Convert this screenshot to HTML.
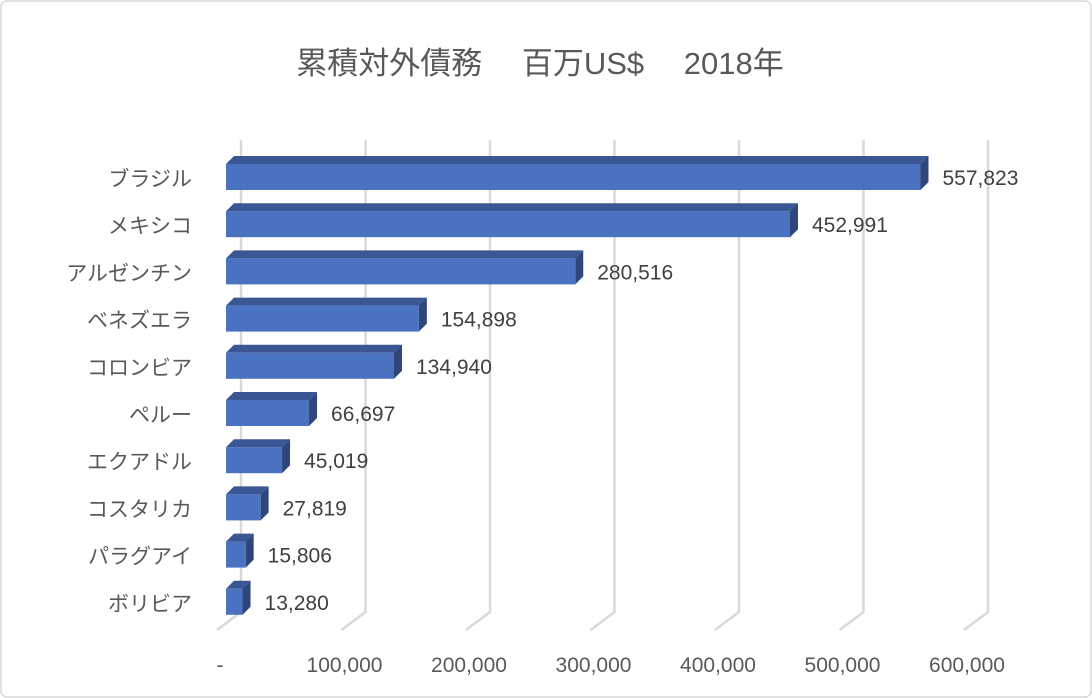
<!DOCTYPE html>
<html><head><meta charset="utf-8"><style>
html,body{margin:0;padding:0;background:#fff}
svg{display:block;font-family:"Liberation Sans","Noto Sans CJK JP",sans-serif}
</style></head><body>
<svg width="1092" height="698" viewBox="0 0 1092 698">
<rect x="1" y="1" width="1090" height="696" rx="6" fill="#fff" stroke="#d9d9d9" stroke-width="1.5"/>
<text x="540" y="74" text-anchor="middle" font-size="31" fill="#595959">累積対外債務　 百万US$　 2018年</text>
<g id="grid"></g><g id="bars"></g><g id="labels"></g>
</svg>
<script>
const categories=["ブラジル","メキシコ","アルゼンチン","ベネズエラ","コロンビア","ペルー","エクアドル","コスタリカ","パラグアイ","ボリビア"];
const values=[557823,452991,280516,154898,134940,66697,45019,27819,15806,13280];
const ticks=[0,100000,200000,300000,400000,500000,600000];
const tickLabels=["-","100,000","200,000","300,000","400,000","500,000","600,000"];
const NS="http://www.w3.org/2000/svg";
const xs=v=>226+v*0.001245;
const rowY=i=>177+i*47.2;
function mk(t,a,p){const e=document.createElementNS(NS,t);for(const k in a)e.setAttribute(k,a[k]);p.appendChild(e);return e;}
const g=document.getElementById('grid'),b=document.getElementById('bars'),l=document.getElementById('labels');
ticks.forEach((t,i)=>{
  const bx=xs(t)+15;
  const ln=mk('polyline',{points:`${bx},140 ${bx},612 ${bx-24},630`,fill:'none',stroke:'#d9d9d9','stroke-width':2.5},g);
  
  const tx=mk('text',{x:xs(t)-6,y:672,'text-anchor':'middle','font-size':21,fill:'#595959'},l);
  
  tx.textContent=tickLabels[i];
});
categories.forEach((c,i)=>{
  const y=rowY(i),h=26,x0=226,x1=xs(values[i]),d=8;
  const top=y-h/2;
  const grp=mk('g',{},b);
  
  mk('polygon',{points:`${x0},${top} ${x0+d},${top-d} ${x1+d},${top-d} ${x1},${top}`,fill:'#3a5694'},grp);
  mk('polygon',{points:`${x1},${top} ${x1+d},${top-d} ${x1+d},${top+h-d} ${x1},${top+h}`,fill:'#2e4679'},grp);
  mk('rect',{x:x0,y:top,width:x1-x0,height:h,fill:'#4a72c0'},grp);
  const v=mk('text',{x:x1+22,y:y+8,'font-size':21,fill:'#404040'},l);
  
  v.textContent=values[i].toLocaleString('en-US');
  const ct=mk('text',{x:192,y:y+9,'text-anchor':'end','font-size':21,fill:'#595959'},l);
  
  ct.textContent=c;
});
</script>
</body></html>
